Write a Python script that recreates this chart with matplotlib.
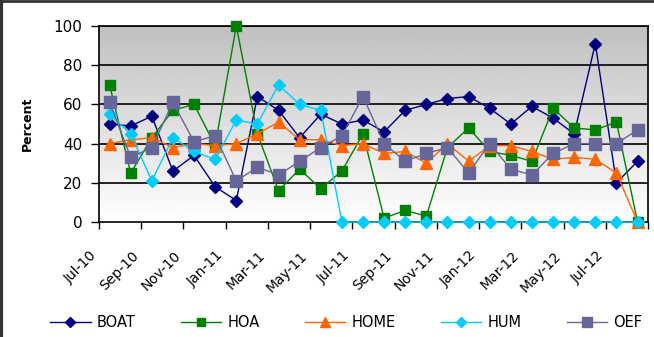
import numpy as np
import matplotlib
matplotlib.use("Agg")
import matplotlib.pyplot as plt
from matplotlib.lines import Line2D

# monthly percentages, Jul-10 .. Aug-12
boat = [50, 49, 54, 26, 34, 18, 11, 64, 57, 43, 55, 50, 52, 46, 57, 60, 63, 64, 58, 50, 59, 53, 45, 91, 20, 31]
hoa = [70, 25, 43, 57, 60, 39, 100, 45, 16, 27, 17, 26, 45, 2, 6, 3, 38, 48, 36, 34, 31, 58, 48, 47, 51, 0]
home = [40, 42, 43, 38, 40, 39, 40, 45, 51, 42, 42, 39, 40, 35, 36, 30, 40, 31, 39, 39, 36, 32, 33, 32, 25, 0]
hum = [55, 45, 21, 43, 36, 32, 52, 50, 70, 60, 57, 0, 0, 0, 0, 0, 0, 0, 0, 0, 0, 0, 0, 0, 0, 0]
oef = [61, 33, 38, 61, 41, 44, 21, 28, 24, 31, 38, 44, 64, 40, 31, 35, 38, 25, 40, 27, 24, 35, 40, 40, 40, 47]
tick_labels = ["Jul-10", "Sep-10", "Nov-10", "Jan-11", "Mar-11", "May-11", "Jul-11",
               "Sep-11", "Nov-11", "Jan-12", "Mar-12", "May-12", "Jul-12"]

series = [
    ("BOAT", boat, "#000080", "D", 6),
    ("HOA", hoa, "#008000", "s", 7),
    ("HOME", home, "#FF6600", "^", 8),
    ("HUM", hum, "#00CCFF", "D", 6),
    ("OEF", oef, "#666699", "s", 8),
]

plt.rcParams["font.family"] = "DejaVu Sans"

fig = plt.figure(figsize=(6.54, 3.37), dpi=100)
ax = fig.add_axes([0.1514, 0.341, 0.8396, 0.582])

x = np.arange(len(boat))
ax.set_xlim(-0.5, len(boat) - 0.5)
ax.set_ylim(0, 100)

# grey-to-white gradient behind the plot
grad = np.linspace(1.0, 0.75, 256).reshape(-1, 1)
ax.imshow(grad, cmap="gray", vmin=0, vmax=1, aspect="auto",
          extent=[-0.5, len(boat) - 0.5, 0, 100], origin="lower", zorder=0)

for yv in [20, 40, 60, 80, 100]:
    ax.axhline(yv, color="black", lw=1.2, zorder=1)

for name, vals, col, mk, ms in series:
    ax.plot(x, vals, color=col, lw=1.0, marker=mk, markersize=ms,
            markeredgecolor=col, label=name, zorder=3, clip_on=False)

ax.set_yticks([0, 20, 40, 60, 80, 100])
ax.tick_params(axis="y", direction="out", length=6, width=1, labelsize=11, pad=6)
ax.set_xticks(np.arange(-0.5, len(boat), 2))
ax.set_xticklabels(tick_labels + [""], rotation=45, ha="right")
ax.tick_params(axis="x", direction="out", length=5, width=1, labelsize=10, pad=14)

for s in ax.spines.values():
    s.set_color("black")
    s.set_linewidth(1.2)

ax.set_ylabel("Percent", fontsize=9, fontweight="bold", labelpad=14)

handles = [Line2D([0], [0], color=c, marker=m, markersize=ms * 0.85, lw=1.0)
           for _, _, c, m, ms in series]
fig.legend(handles, [s[0] for s in series], loc="center", ncol=5,
           bbox_to_anchor=(0.529, 0.042), frameon=False, fontsize=10.5,
           handlelength=2.8, handletextpad=0.4, columnspacing=3.1)

# outer frame on the left and top edges
fig.add_artist(plt.Line2D([0.002, 0.002], [0, 1], color="#333333", lw=3, transform=fig.transFigure))
fig.add_artist(plt.Line2D([0, 1], [0.997, 0.997], color="#333333", lw=2, transform=fig.transFigure))

fig.savefig("out.png", dpi=100)
